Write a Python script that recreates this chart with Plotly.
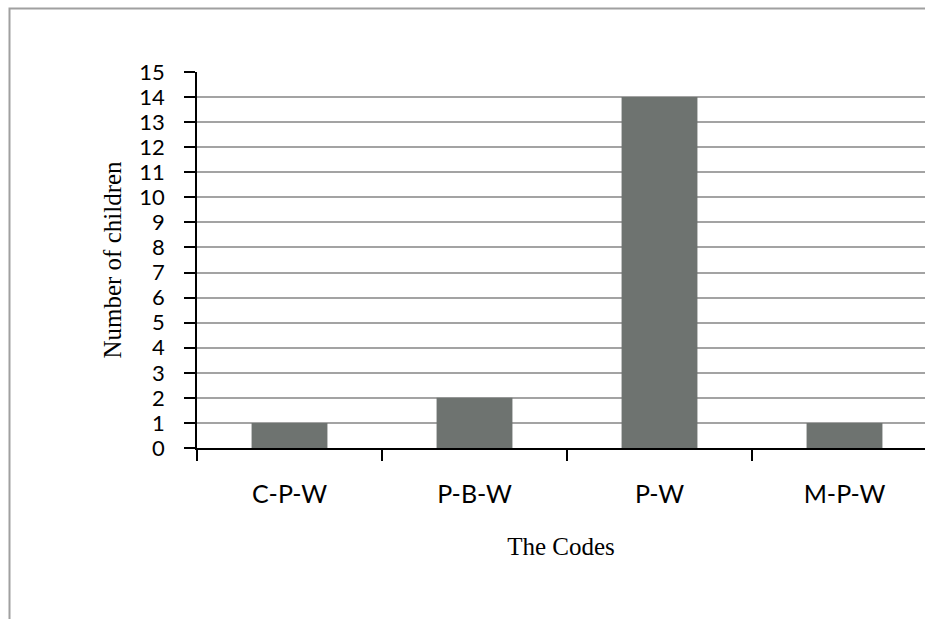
import plotly.graph_objects as go

categories = ["C-P-W", "P-B-W", "P-W", "M-P-W"]
children = [1, 2, 14, 1]
y_ticks = list(range(0, 16))

W, H = 925, 619
L, R, T, B = 197, 0, 72, 171
cat_px = 185.0
plot_w = W - L - R
plot_h = H - T - B

fig = go.Figure(go.Bar(
    x=categories, y=children,
    marker=dict(color="#6e7370", line=dict(width=0)),
    width=0.41,
))

fig.update_layout(
    width=W, height=H,
    margin=dict(l=L, r=R, t=T, b=B, pad=0),
    paper_bgcolor="white", plot_bgcolor="white",
    showlegend=False,
    font=dict(family="Lato, Open Sans, sans-serif", size=24, color="black"),
)

fig.update_xaxes(
    type="category",
    range=[-0.5, -0.5 + plot_w / cat_px],
    showline=True, linecolor="black", linewidth=1.5,
    ticks="outside", tickson="boundaries", ticklen=11, tickwidth=1.5, tickcolor="black",
    ticklabelstandoff=23,
    showgrid=False, zeroline=False,
    tickfont=dict(family="Lato, Open Sans, sans-serif", size=25, color="black"),
    title=dict(text="The Codes", standoff=31,
               font=dict(family="Liberation Serif, Times New Roman, serif", size=25, color="black")),
)

fig.update_yaxes(
    range=[0, 15],
    tickmode="array", tickvals=y_ticks, ticktext=[str(v) for v in y_ticks],
    showline=True, linecolor="black", linewidth=1.5,
    ticks="outside", ticklen=11, tickwidth=1.5, tickcolor="black",
    ticklabelstandoff=15,
    showgrid=True, gridcolor="#a3a3a3", gridwidth=2,
    zeroline=False,
    tickfont=dict(family="Lato, Open Sans, sans-serif", size=22, color="black"),
    title=dict(text="Number of children", standoff=11,
               font=dict(family="Liberation Serif, Times New Roman, serif", size=25, color="black")),
)

# outer chart-area border (extends beyond the captured window on right and bottom)
fig.add_shape(
    type="rect", xref="paper", yref="paper",
    x0=(9.5 - L) / plot_w, x1=(W + 20 - L) / plot_w,
    y0=-(B + 20) / plot_h, y1=(H - 8.5 - B) / plot_h,
    line=dict(color="#a0a0a0", width=2), fillcolor="rgba(0,0,0,0)",
    layer="below",
)

fig.write_html(
    "out.html",
    config={"displayModeBar": False},
    post_script="document.body.style.margin='0';document.body.style.overflow='hidden';",
)
